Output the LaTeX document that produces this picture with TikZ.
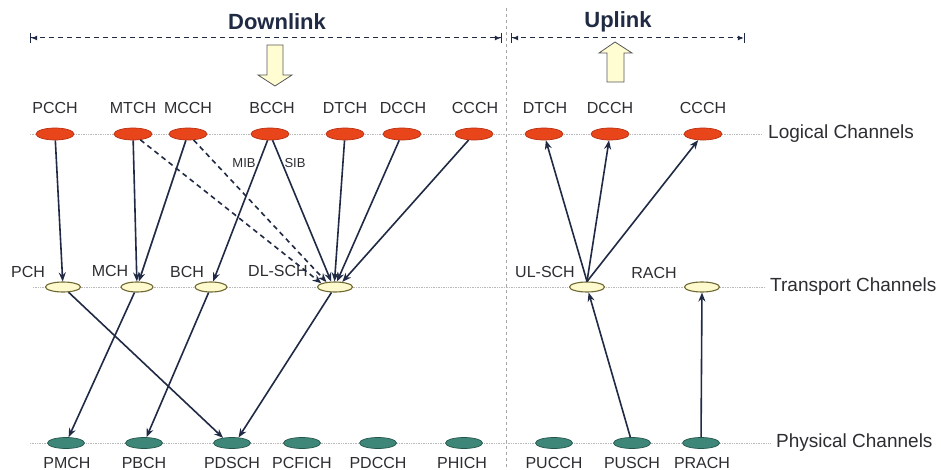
\documentclass[tikz,border=0pt]{standalone}
\usepackage{fontspec}
\setmainfont{Liberation Sans}
\usepackage{tikz}
\usetikzlibrary{positioning,calc}
\usetikzlibrary{arrows.meta,shapes.geometric}
\definecolor{LogRed}{RGB}{232,70,26}
\definecolor{LogEdge}{RGB}{185,45,15}
\definecolor{TrYellow}{RGB}{255,250,205}
\definecolor{TrEdge}{RGB}{110,105,50}
\definecolor{PhyTeal}{RGB}{62,135,120}
\definecolor{PhyEdge}{RGB}{35,85,75}
\definecolor{LinkNavy}{RGB}{32,42,68}
\definecolor{TextGray}{RGB}{45,45,50}
\tikzset{
  logch/.style={ellipse,draw=LogEdge,fill=LogRed,line width=0.7pt,inner sep=0pt,minimum width=38pt,minimum height=12pt},
  trch/.style={ellipse,draw=TrEdge,fill=TrYellow,line width=1.1pt,inner sep=0pt,minimum width=35pt,minimum height=10pt},
  phych/.style={ellipse,draw=PhyEdge,fill=PhyTeal,line width=0.7pt,inner sep=0pt,minimum width=37pt,minimum height=11pt},
  chname/.style={text=TextGray,inner sep=0pt,font=\fontsize{16}{18}\selectfont},
  rowname/.style={text=TextGray,inner sep=0pt,anchor=west,font=\fontsize{19}{22}\selectfont},
  infoname/.style={text=TextGray,inner sep=0pt,font=\fontsize{13}{15}\selectfont},
  heading/.style={text=LinkNavy,inner sep=0pt,font=\bfseries\fontsize{22}{26}\selectfont},
  rowline/.style={draw=gray!55,densely dotted,line width=0.7pt},
  map/.style={draw=LinkNavy,line width=1.6pt,-{Stealth[length=9pt,width=7pt]}},
  mapdash/.style={map,dash pattern=on 5pt off 4pt},
  span/.style={draw=LinkNavy,line width=1pt,dash pattern=on 5pt off 4pt},
  bigarrow/.style={draw=gray!70!black,fill=yellow!18,line width=0.8pt,line join=miter}
}

\begin{document}
\begin{tikzpicture}[x=1pt,y=-1pt]
\useasboundingbox (0,0) rectangle (941,470);
\fill[white] (0,0) rectangle (941,470);
\draw[draw=gray!70,dash pattern=on 3pt off 3pt,line width=0.8pt] (506,8) -- (506,470);
\node[heading] (dl-title) at (277,22) {Downlink};
\node[heading] (ul-title) at (618,22) {Uplink};
\coordinate (dl-a) at (30,38);
\coordinate (dl-b) at (502,38);
\coordinate (ul-a) at (511,38);
\coordinate (ul-b) at (745,38);
\draw[span,{Bar[width=10pt,line width=1.2pt]Latex[length=6pt,width=5pt]}-{Latex[length=6pt,width=5pt]Bar[width=10pt,line width=1.2pt]}] (dl-a) -- (dl-b);
\draw[span,{Bar[width=10pt,line width=1.2pt]Latex[length=6pt,width=5pt]}-{Latex[length=6pt,width=5pt]Bar[width=10pt,line width=1.2pt]}] (ul-a) -- (ul-b);
\draw[bigarrow] (267,45) -- (283,45) -- (283,75) -- (292,75) -- (275,86) -- (258,75) -- (267,75) -- cycle;
\draw[bigarrow] (607,82) -- (624,82) -- (624,53) -- (632,53) -- (615,42) -- (599,53) -- (607,53) -- cycle;
\draw[rowline] (30,134) -- (762,134);
\draw[rowline] (33,287) -- (765,287);
\draw[rowline] (30,443) -- (770,443);
\node[rowname] (row-log) at (768,134) {Logical Channels};
\node[rowname] (row-tr) at (770,287) {Transport Channels};
\node[rowname] (row-phy) at (776,443) {Physical Channels};
\node[logch] (pcch) at (55,134) {};
\node[logch] (mtch) at (133,134) {};
\node[logch] (mcch) at (188,134) {};
\node[logch] (bcch) at (270,134) {};
\node[logch] (dtch) at (345,134) {};
\node[logch] (dcch) at (402,134) {};
\node[logch] (ccch) at (474,134) {};
\node[logch] (udtch) at (544,134) {};
\node[logch] (udcch) at (610,134) {};
\node[logch] (uccch) at (703,134) {};
\node[chname] (pcch-t) at (55,108) {PCCH};
\node[chname] (mtch-t) at (133,108) {MTCH};
\node[chname] (mcch-t) at (188,108) {MCCH};
\node[chname] (bcch-t) at (272,108) {BCCH};
\node[chname] (dtch-t) at (345,108) {DTCH};
\node[chname] (dcch-t) at (403,108) {DCCH};
\node[chname] (ccch-t) at (475,108) {CCCH};
\node[chname] (udtch-t) at (545,108) {DTCH};
\node[chname] (udcch-t) at (610,108) {DCCH};
\node[chname] (uccch-t) at (703,108) {CCCH};
\node[trch] (pch) at (63,287) {};
\node[trch,minimum width=32pt] (mch) at (137,287) {};
\node[trch,minimum width=32pt] (bch) at (211,287) {};
\node[trch] (dlsch) at (335,287) {};
\node[trch] (ulsch) at (587,287) {};
\node[trch] (rach) at (702,287) {};
\node[chname] (pch-t) at (28,272) {PCH};
\node[chname] (mch-t) at (110,271) {MCH};
\node[chname] (bch-t) at (187,272) {BCH};
\node[chname] (dlsch-t) at (278,271) {DL-SCH};
\node[chname] (ulsch-t) at (545,272) {UL-SCH};
\node[chname] (rach-t) at (654,273) {RACH};
\node[phych] (pmch) at (66,443) {};
\node[phych] (pbch) at (144,443) {};
\node[phych] (pdsch) at (232,443) {};
\node[phych] (pcfich) at (302,443) {};
\node[phych] (pdcch) at (378,443) {};
\node[phych] (phich) at (464,443) {};
\node[phych] (pucch) at (554,443) {};
\node[phych] (pusch) at (632,443) {};
\node[phych] (prach) at (701,443) {};
\node[chname] (pmch-t) at (67,463) {PMCH};
\node[chname] (pbch-t) at (144,463) {PBCH};
\node[chname] (pdsch-t) at (232,463) {PDSCH};
\node[chname] (pcfich-t) at (302,463) {PCFICH};
\node[chname] (pdcch-t) at (378,463) {PDCCH};
\node[chname] (phich-t) at (462,463) {PHICH};
\node[chname] (pucch-t) at (554,463) {PUCCH};
\node[chname] (pusch-t) at (632,463) {PUSCH};
\node[chname] (prach-t) at (702,463) {PRACH};
\draw[map] (pcch) -- (pch);
\draw[map] (mtch) -- (mch);
\draw[map] (mcch) -- (mch);
\draw[mapdash] (mtch) -- (dlsch.165);
\draw[mapdash] (mcch) -- (dlsch.150);
\draw[map] (bcch) -- (bch);
\draw[map] (bcch) -- (dlsch.125);
\draw[map] (dtch) -- (dlsch.95);
\draw[map] (dcch) -- (dlsch.70);
\draw[map] (ccch) -- (dlsch.35);
\node[infoname] (mib) at (244,163) {MIB};
\node[infoname] (sib) at (295,163) {SIB};
\draw[map] (pch) -- (pdsch.150);
\draw[map] (mch) -- (pmch);
\draw[map] (bch) -- (pbch);
\draw[map] (dlsch) -- (pdsch.40);
\draw[map] (ulsch.north) -- (udtch);
\draw[map] (ulsch.north) -- (udcch);
\draw[map] (ulsch.north) -- (uccch);
\draw[map] (pusch) -- (ulsch);
\draw[map] (prach) -- (rach);
\end{tikzpicture}
\end{document}
